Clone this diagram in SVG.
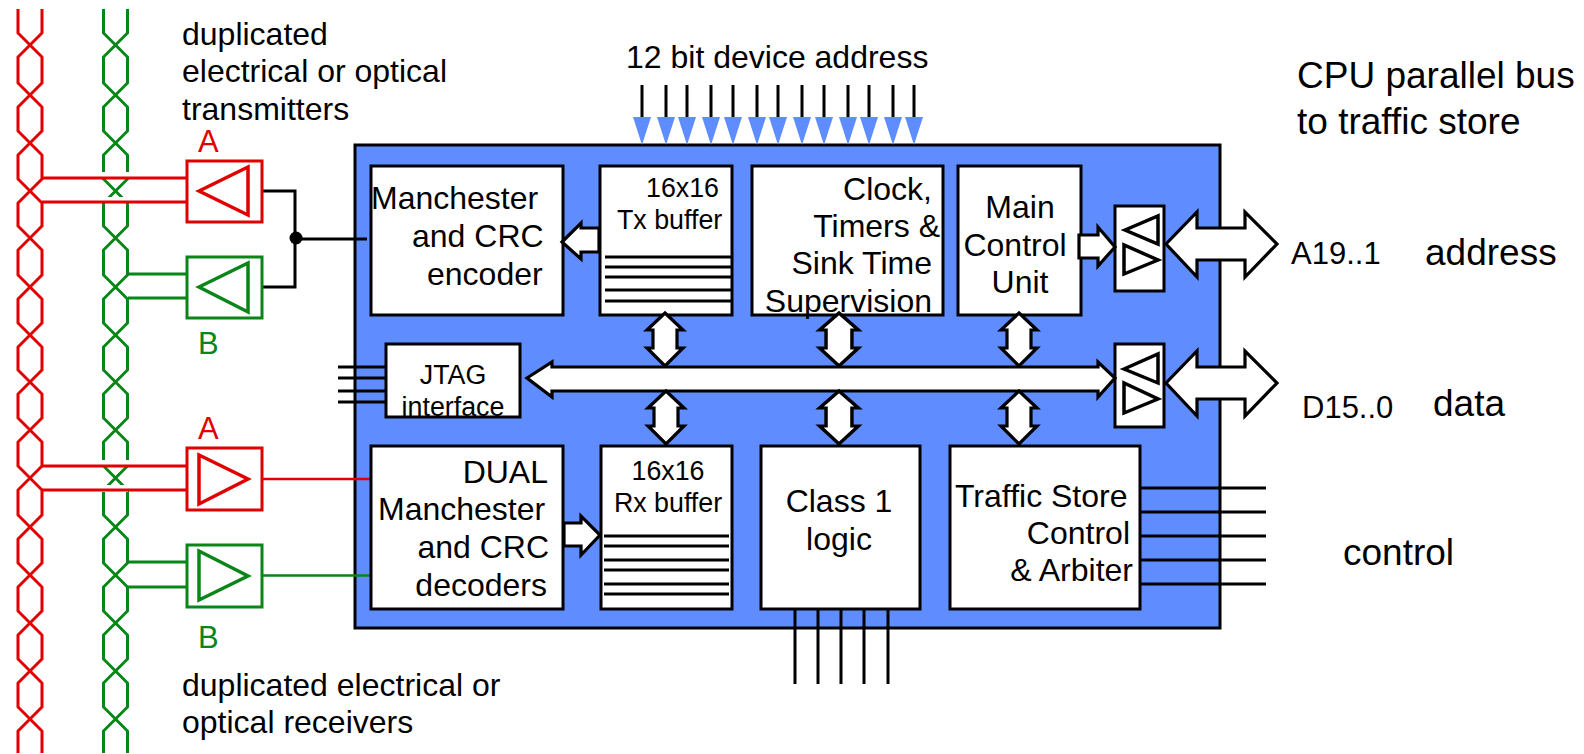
<svg xmlns="http://www.w3.org/2000/svg" width="1584" height="754" viewBox="0 0 1584 754">
<defs>
<style>
text{font-family:"Liberation Sans",Arial,sans-serif;fill:#000}
.t32{font-size:32px}.t37{font-size:37px}.t26{font-size:26.800px}.t31{font-size:31px}.t29{font-size:31px}
.m{text-anchor:middle}.e{text-anchor:end}
.box{fill:#fff;stroke:#000;stroke-width:3}
.blk{fill:none;stroke:#000;stroke-width:3}
.arr{fill:#fff;stroke:#000;stroke-width:3.2;stroke-linejoin:miter}
.red{fill:none;stroke:#e00000;stroke-width:3}
.grn{fill:none;stroke:#0a8518;stroke-width:3}
.tri{fill:none;stroke-width:3.500}
.mask{fill:#fff}
</style>
<path id="strand" d="M18 9V33L42 57V83L18 107V131L42 155V179L18 203V226L42 250V275L18 299V323L42 347V370L18 394V418L42 442V466L18 490V515L42 539V563L18 587V611L42 635V659L18 683V707L42 731V753M42 9V33L18 57V83L42 107V131L18 155V179L42 203V226L18 250V275L42 299V323L18 347V370L42 394V418L18 442V466L42 490V515L18 539V563L42 587V611L18 635V659L42 683V707L18 731V753"/>
<polygon id="dbl" points="0,0 18,17 12,17 12,35 18,35 0,53 -18,35 -12,35 -12,17 -18,17"/>
<polygon id="addr" points="-9,117 9,117 0,145" fill="#5f8dff"/>
</defs>

<g id="cables">
<use href="#strand" class="red"/>
<use href="#strand" class="grn" transform="translate(85.5 0)"/>
<rect class="mask" x="101" y="172" width="30" height="7"/>
<rect class="mask" x="101" y="197" width="30" height="5"/>
<rect class="mask" x="101" y="460" width="30" height="7"/>
<rect class="mask" x="95" y="485" width="33" height="7"/>
</g>

<g id="chip">
<rect x="355" y="145" width="865" height="483" fill="#5f8dff" stroke="#000" stroke-width="3"/>
</g>

<g id="connectors">
<path class="red" d="M42 178H187M42 202H187M42 466H187M42 490H187"/>
<path class="red" style="stroke-width:2.500" d="M262 479H371"/>
<path class="grn" d="M128 274H187M128 298H187M128 562H187M128 587H187"/>
<path class="grn" style="stroke-width:2.500" d="M262 575.500H371"/>
<path class="blk" d="M262 191H295V287H262M296 239H367"/>
<circle cx="296" cy="238" r="6.500" fill="#000"/>
<path class="blk" d="M338 367H386M338 378H386M338 391H386M338 402H386"/>
<path class="blk" d="M1139 488H1266M1139 512H1266M1139 536H1266M1139 560H1266M1139 584H1266"/>
<path class="blk" d="M795 607V684M818 607V684M841 607V684M864 607V684M888 607V684"/>
<path class="blk" d="M642 85V118M666 85V118M687 85V118M711 85V118M733 85V118M757 85V118M778 85V118M802 85V118M824 85V118M848 85V118M869 85V118M893 85V118M914 85V118"/>
<use href="#addr" x="642"/><use href="#addr" x="666"/><use href="#addr" x="687"/><use href="#addr" x="711"/><use href="#addr" x="733"/><use href="#addr" x="757"/><use href="#addr" x="778"/><use href="#addr" x="802"/><use href="#addr" x="824"/><use href="#addr" x="848"/><use href="#addr" x="869"/><use href="#addr" x="893"/><use href="#addr" x="914"/>
</g>

<g id="tx-a"><rect x="187" y="161" width="75" height="61" fill="#fff" class="red"/><polygon class="tri" stroke="#e00000" points="199,191 248,167 248,215"/></g>
<g id="tx-b"><rect x="187" y="257" width="75" height="61" fill="#fff" class="grn"/><polygon class="tri" stroke="#0a8518" points="199,287 248,263 248,312"/></g>
<g id="rx-a"><rect x="187" y="448" width="75" height="62" fill="#fff" class="red"/><polygon class="tri" stroke="#e00000" points="199,455 199,504 248,479"/></g>
<g id="rx-b"><rect x="187" y="545" width="75" height="62" fill="#fff" class="grn"/><polygon class="tri" stroke="#0a8518" points="199,551 199,600 248,576"/></g>

<g id="encoder"><rect class="box" x="371" y="166" width="192" height="149"/>
<text class="t32" x="371" y="209">Manchester</text><text class="t32" x="412" y="247">and CRC</text><text class="t32" x="427" y="285">encoder</text></g>

<g id="tx-buffer"><rect class="box" x="600" y="166" width="132" height="149"/>
<path class="blk" d="M605 257H731M605 267H731M605 277H731M605 290H731M605 301H731"/>
<text class="t26" x="646" y="197">16x16</text><text class="t26" x="617" y="229">Tx buffer</text></g>

<g id="clock"><rect class="box" x="752" y="166" width="191" height="149"/>
<text class="t32 e" x="932" y="200">Clock,</text><text class="t32 e" x="940" y="237">Timers &amp;</text><text class="t32 e" x="932" y="274">Sink Time</text><text class="t32 e" x="932" y="312">Supervision</text></g>

<g id="mcu"><rect class="box" x="958" y="166" width="123" height="149"/>
<text class="t32 m" x="1020" y="218">Main</text><text class="t32 m" x="1015" y="256">Control</text><text class="t32 m" x="1020" y="293">Unit</text></g>

<g id="jtag"><rect class="box" x="386" y="344" width="134" height="73"/>
<text class="t26 m" x="453" y="384">JTAG</text><text class="t26 m" x="453" y="416">interface</text></g>

<g id="decoder"><rect class="box" x="371" y="446" width="192" height="163"/>
<text class="t32 e" x="548" y="483">DUAL</text><text class="t32" x="378" y="520">Manchester</text><text class="t32 e" x="549" y="558">and CRC</text><text class="t32 e" x="547" y="596">decoders</text></g>

<g id="rx-buffer"><rect class="box" x="601" y="446" width="131" height="163"/>
<path class="blk" d="M604 536H729M604 546H729M604 560H729M604 570H729M604 584H729M604 594H729"/>
<text class="t26 m" x="668" y="480">16x16</text><text class="t26 m" x="668" y="512">Rx buffer</text></g>

<g id="class1"><rect class="box" x="761" y="446" width="159" height="163"/>
<text class="t32 m" x="839" y="512">Class 1</text><text class="t32 m" x="839" y="550">logic</text></g>

<g id="traffic"><rect class="box" x="950" y="446" width="190" height="163"/>
<text class="t32" x="955" y="507">Traffic Store</text><text class="t32 e" x="1130" y="544">Control</text><text class="t32 e" x="1133" y="581">&amp; Arbiter</text></g>

<g id="xcvr-addr"><rect class="box" x="1115" y="206" width="49" height="85"/>
<polygon class="tri" stroke="#000" points="1125,230 1158,216 1158,244"/><polygon class="tri" stroke="#000" points="1124,245 1124,274 1158,260"/></g>
<g id="xcvr-data"><rect class="box" x="1115" y="344" width="49" height="83"/>
<polygon class="tri" stroke="#000" points="1124,369 1158,354 1158,383"/><polygon class="tri" stroke="#000" points="1124,383 1124,413 1158,399"/></g>

<g id="block-arrows">
<polygon class="arr" points="1166,244 1197,212 1197,228 1245,228 1245,212 1277,244 1245,277 1245,260 1197,260 1197,277"/>
<polygon class="arr" points="1166,383 1197,351 1197,367 1245,367 1245,351 1277,383 1245,416 1245,399 1197,399 1197,416"/>
<polygon class="arr" points="527,378 552,362 552,367 1098,367 1098,362 1115,378 1098,397 1098,391 552,391 552,397"/>
<polygon class="arr" points="1079,235 1098,235 1098,227 1115,247 1098,266 1098,258 1079,258"/>
<polygon class="arr" points="562,242 581,223 581,228 599,228 599,252 581,252 581,259"/>
<polygon class="arr" points="564,523 581,523 581,516 600,535 581,555 581,546 564,546"/>
<use href="#dbl" class="arr" transform="translate(665 313)"/>
<use href="#dbl" class="arr" transform="translate(839 313) scale(1.080 1)"/>
<use href="#dbl" class="arr" transform="translate(1019 313)"/>
<use href="#dbl" class="arr" transform="translate(666 391)"/>
<use href="#dbl" class="arr" transform="translate(839 391) scale(1.080 1)"/>
<use href="#dbl" class="arr" transform="translate(1019 391)"/>
</g>

<g id="labels">
<text class="t32" x="182" y="45">duplicated</text>
<text class="t32" x="182" y="82">electrical or optical</text>
<text class="t32" x="182" y="120">transmitters</text>
<text class="t29" x="198" y="152" style="fill:#e00000">A</text>
<text class="t29" x="198" y="354" style="fill:#0a8518">B</text>
<text class="t29" x="198" y="439" style="fill:#e00000">A</text>
<text class="t29" x="198" y="648" style="fill:#0a8518">B</text>
<text class="t32" x="182" y="696">duplicated electrical or</text>
<text class="t32" x="182" y="733">optical receivers</text>
<text class="t32" x="626" y="68">12 bit device address</text>
<text class="t37" x="1297" y="88">CPU parallel bus</text>
<text class="t37" x="1297" y="134">to traffic store</text>
<text class="t31" x="1291" y="264">A19..1</text>
<text class="t37" x="1425" y="265">address</text>
<text class="t31" x="1302" y="418">D15..0</text>
<text class="t37" x="1433" y="416">data</text>
<text class="t37" x="1343" y="565">control</text>
</g>
</svg>
